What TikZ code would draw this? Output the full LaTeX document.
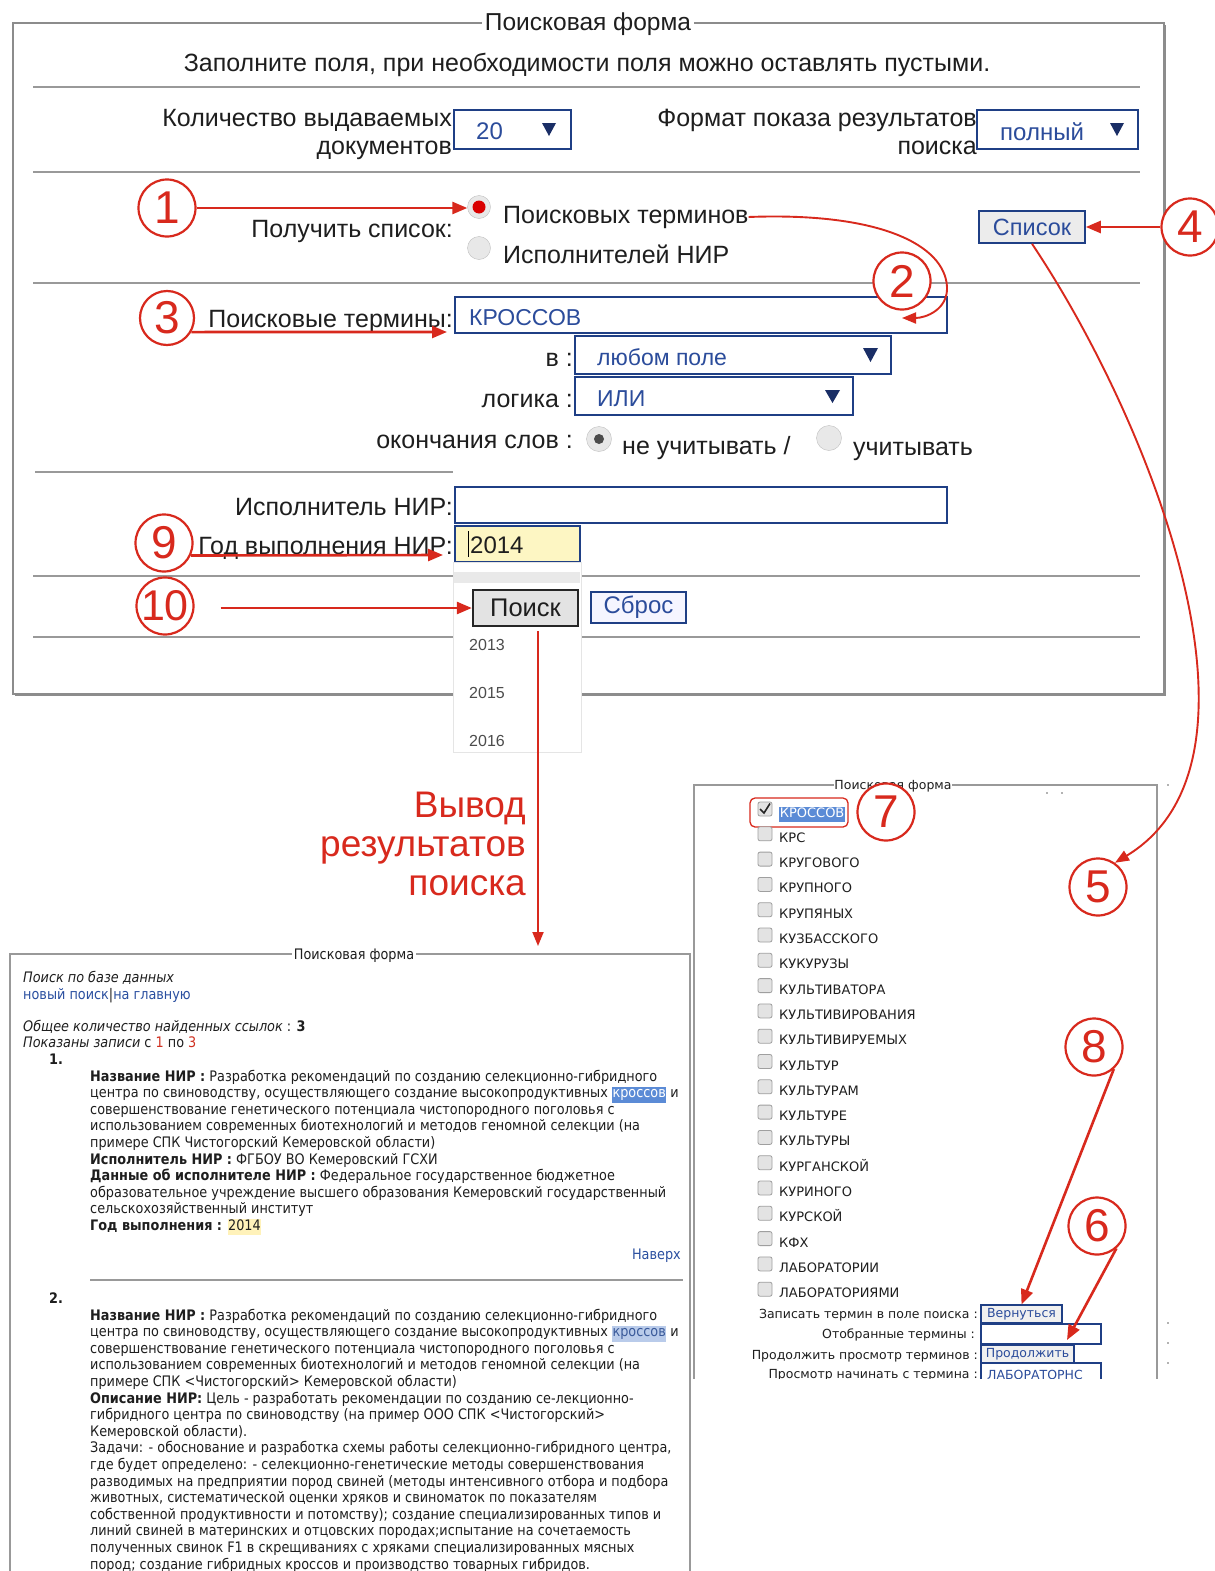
\documentclass[tikz,border=0pt]{standalone}
\usepackage{fontspec}
\setmainfont{Liberation Sans}
\newfontfamily\vfont{DejaVu Sans}
\newfontfamily\rfont[FakeStretch=0.885]{DejaVu Sans}
\usetikzlibrary{arrows.meta}
\definecolor{annred}{HTML}{D8291D}
\definecolor{frgray}{HTML}{8C8C8C}
\definecolor{sepgray}{HTML}{999999}
\definecolor{boxblue}{HTML}{1F3F85}
\definecolor{intext}{HTML}{2B4C9B}
\definecolor{navy}{HTML}{1A2E66}
\definecolor{hlblue}{HTML}{5B8BD6}
\definecolor{hllight}{HTML}{B9CBEA}
\definecolor{hltext}{HTML}{3A5A9A}
\definecolor{linkblue}{HTML}{2A4FA0}
\definecolor{txt}{HTML}{1E1E1E}
\definecolor{yel}{HTML}{FDF6C3}
\definecolor{yel2}{HTML}{FFF2BA}
\definecolor{numred}{HTML}{D03020}
\newcommand\myfs[1]{\fontsize{#1}{#1}\selectfont}
\newcommand\myhl[3]{{\setlength{\fboxsep}{0.6pt}\colorbox{#1}{\strut\textcolor{#2}{#3}}}}
\begin{document}
\begin{tikzpicture}[x=1pt,y=-1pt,
  ltxt/.style={inner sep=0pt, font=\myfs{25}, text=txt},
  itext/.style={inner sep=0pt, font=\myfs{23}, text=intext, anchor=base west},
  numc/.style={circle, draw=annred, line width=2.2pt, fill=white, minimum size=57pt, inner sep=0pt, text=annred, font=\myfs{46}},
  arr/.style={draw=annred, line width=2.6pt, -{Triangle[length=15pt,width=12pt]}},
  arrthin/.style={draw=annred, line width=1.9pt, -{Triangle[length=14pt,width=11pt]}},
  sep/.style={draw=sepgray, line width=2pt},
  fieldbox/.style={draw=boxblue, line width=1.8pt, fill=white, inner sep=0pt},
  radio/.style={circle, draw=gray!50, fill=gray!18, minimum size=23pt, inner sep=0pt},
  rl/.style={inner sep=0pt, anchor=base west, font=\rfont\myfs{14.5}, text=txt},
  vl/.style={inner sep=0pt, font=\vfont\myfs{12.5}, text=txt},
  cbox/.style={draw=gray!75, line width=0.8pt, fill=gray!22, rounded corners=2pt, minimum size=14pt, inner sep=0pt},
  smallbtn/.style={draw=boxblue, line width=1.1pt, fill=gray!12, inner sep=0pt, font=\vfont\myfs{12.5}, text=intext}
]
\useasboundingbox (0,0) rectangle (1215,1571);
\clip (0,0) rectangle (1215,1571);
\fill[white] (0,0) rectangle (1215,1571);

% ================= TOP FORM =================
\fill[black!45] (15,25) rectangle (1166,696);
\node[draw=frgray, line width=1.8pt, fill=white, minimum width=1151pt, minimum height=671pt, anchor=north west, inner sep=0pt] (topframe) at (12,22) {};
\node[fill=white, inner xsep=3pt, inner ysep=1pt, font=\myfs{24.5}, text=txt, anchor=base] (title) at (588,30.5) {Поисковая форма};
\node[ltxt, anchor=base] (intro) at (587,71) {Заполните поля, при необходимости поля можно оставлять пустыми.};
\draw[sep] (33,87) -- (1140,87);

\node[ltxt, anchor=base east] (kol1) at (452,126) {Количество выдаваемых};
\node[ltxt, anchor=base east] (kol2) at (452,154) {документов};
\node[fieldbox, minimum width=117pt, minimum height=39pt] (box20) at (512.5,129.5) {};
\node[itext, font=\myfs{24}] (t20) at (476,139) {20};
\fill[navy] (542,123) -- (556,123) -- (549,136) -- cycle;
\node[ltxt, anchor=base east] (fmt1) at (977,126) {Формат показа результатов};
\node[ltxt, anchor=base east] (fmt2) at (977,154) {поиска};
\node[fieldbox, minimum width=161pt, minimum height=39pt] (boxfmt) at (1057.5,129.5) {};
\node[itext, font=\myfs{24}] (tfmt) at (1000,140) {полный};
\fill[navy] (1110,123) -- (1124,123) -- (1117,136) -- cycle;
\draw[sep] (33,172) -- (1140,172);

\node[ltxt, anchor=base east] (getlist) at (453,237) {Получить список:};
\node[radio] (rad1) at (479,207) {};
\fill[red!85!black] (rad1.center) circle[radius=6.5pt];
\node[ltxt, anchor=base west] (terms) at (503,223) {Поисковых терминов};
\node[radio] (rad2) at (479,248) {};
\node[ltxt, anchor=base west] (execs) at (503,263) {Исполнителей НИР};
\node[draw=boxblue, line width=1.6pt, fill=gray!15, minimum width=106pt, minimum height=32pt, inner sep=0pt, font=\myfs{23.5}, text=intext] (spisok) at (1032,227) {Список};
\draw[sep] (33,283) -- (1140,283);

\node[ltxt, anchor=base east] (pterm) at (453,327) {Поисковые термины:};
\node[fieldbox, minimum width=492pt, minimum height=36pt] (kross) at (701,315) {};
\node[itext] (tkross) at (469,325) {КРОССОВ};
\node[ltxt, anchor=base east] (vlab) at (573,366) {в :};
\node[fieldbox, minimum width=316pt, minimum height=38pt] (anyf) at (733,355) {};
\node[itext] (tanyf) at (597,365) {любом поле};
\fill[navy] (863,348) -- (878,348) -- (870.5,362) -- cycle;
\node[ltxt, anchor=base east] (loglab) at (573,407) {логика :};
\node[fieldbox, minimum width=278pt, minimum height=38pt] (ili) at (714,396) {};
\node[itext] (tili) at (597,406) {ИЛИ};
\fill[navy] (825,390) -- (840,390) -- (832.5,403) -- cycle;
\node[ltxt, anchor=base east] (endlab) at (573,448) {окончания слов :};
\node[radio, minimum size=25pt] (rad3) at (599,439) {};
\fill[black!70] (rad3.center) circle[radius=5pt];
\node[ltxt, anchor=base west] (nouch) at (622,454) {не учитывать /};
\node[radio, minimum size=25pt] (rad4) at (829,438) {};
\node[ltxt, anchor=base west] (uch) at (853,455) {учитывать};
\draw[sep] (35,472) -- (453,472);

\node[ltxt, anchor=base east] (isplab) at (453,515) {Исполнитель НИР:};
\node[fieldbox, minimum width=492pt, minimum height=36pt] (ispin) at (701,505) {};
\node[ltxt, anchor=base east] (yearlab) at (453,554) {Год выполнения НИР:};
\node[fieldbox, fill=yel, minimum width=125pt, minimum height=36pt] (yearin) at (517.5,544) {};
\node[ltxt, anchor=base west, font=\myfs{24}] (tyear) at (470,553) {2014};
\draw[black, line width=0.8pt] (468,531) -- (468,557);
\draw[sep] (33,576) -- (1140,576);
\draw[sep] (33,637) -- (1140,637);

% year dropdown panel
\node[fill=white, draw=gray!20, line width=1pt, minimum width=128pt, minimum height=190pt, anchor=north west, inner sep=0pt] (ypanel) at (453,562) {};
\fill[gray!17] (454,572) rectangle (580,583);
\node[inner sep=0pt, font=\myfs{16}, text=black!70] (y13) at (487,645) {2013};
\node[inner sep=0pt, font=\myfs{16}, text=black!70] (y15) at (487,693) {2015};
\node[inner sep=0pt, font=\myfs{16}, text=black!70] (y16) at (487,741) {2016};

\node[draw=black!85, line width=2.4pt, fill=gray!22, minimum width=105pt, minimum height=36pt, inner sep=0pt, font=\myfs{25.5}, text=txt] (poisk) at (525.5,608) {Поиск};
\node[draw=boxblue, line width=1.6pt, fill=blue!4, minimum width=95pt, minimum height=31pt, inner sep=0pt, font=\myfs{24}, text=intext] (sbros) at (638.5,607.5) {Сброс};

% ================= OUTPUT LABEL =================
\node[inner sep=0pt, anchor=base east, font=\myfs{37}, text=annred] (out1) at (526,817) {Вывод};
\node[inner sep=0pt, anchor=base east, font=\myfs{37}, text=annred] (out2) at (526,856) {результатов};
\node[inner sep=0pt, anchor=base east, font=\myfs{37}, text=annred] (out3) at (526,895) {поиска};

% ================= RESULTS BOX =================
\draw[draw=sepgray, line width=1.3pt] (10,1580) -- (10,954) -- (690,954) -- (690,1580);
\node[fill=white, inner xsep=2pt, inner ysep=1pt, font=\rfont\myfs{14.5}, text=txt, anchor=base] (restitle) at (354,959) {Поисковая форма};
\coordinate (rtop) at (538,946);

\node[rl] (r1) at (23,982) {\itshape Поиск по базе данных};
\node[rl] (r2) at (23,999) {\textcolor{linkblue}{новый поиск}|\textcolor{linkblue}{на главную}};
\node[rl] (r3) at (23,1031) {\textit{Общее количество найденных ссылок} : \textbf{3}};
\node[rl] (r4) at (23,1047) {\textit{Показаны записи} с \textcolor{numred}{1} по \textcolor{numred}{3}};
\node[rl] (n1) at (49,1064) {\bfseries 1.};
\node[rl] (a0) at (90,1081) {\textbf{Название НИР :} Разработка рекомендаций по созданию селекционно-гибридного};
\node[rl] (a1) at (90,1097.6) {центра по свиноводству, осуществляющего создание высокопродуктивных \myhl{hlblue}{white}{кроссов} и};
\node[rl] (a2) at (90,1114.2) {совершенствование генетического потенциала чистопородного поголовья с};
\node[rl] (a3) at (90,1130.8) {использованием современных биотехнологий и методов геномной селекции (на};
\node[rl] (a4) at (90,1147.4) {примере СПК Чистогорский Кемеровской области)};
\node[rl] (a5) at (90,1164) {\textbf{Исполнитель НИР :} ФГБОУ ВО Кемеровский ГСХИ};
\node[rl] (a6) at (90,1180.6) {\textbf{Данные об исполнителе НИР :} Федеральное государственное бюджетное};
\node[rl] (a7) at (90,1197.2) {образовательное учреждение высшего образования Кемеровский государственный};
\node[rl] (a8) at (90,1213.8) {сельскохозяйственный институт};
\node[rl] (a9) at (90,1230.4) {\textbf{Год выполнения :} \myhl{yel2}{txt}{2014}};
\node[rl, anchor=base east, text=linkblue] (top1) at (681,1259) {Наверх};
\draw[draw=sepgray, line width=1.5pt] (90,1280) -- (683,1280);
\node[rl] (n2) at (49,1303) {\bfseries 2.};
\node[rl] (b0) at (90,1320) {\textbf{Название НИР :} Разработка рекомендаций по созданию селекционно-гибридного};
\node[rl] (b1) at (90,1336.6) {центра по свиноводству, осуществляющего создание высокопродуктивных \myhl{hllight}{hltext}{кроссов} и};
\node[rl] (b2) at (90,1353.2) {совершенствование генетического потенциала чистопородного поголовья с};
\node[rl] (b3) at (90,1369.8) {использованием современных биотехнологий и методов геномной селекции (на};
\node[rl] (b4) at (90,1386.4) {примере СПК <Чистогорский> Кемеровской области)};
\node[rl] (b5) at (90,1403) {\textbf{Описание НИР:} Цель - разработать рекомендации по созданию се-лекционно-};
\node[rl] (b6) at (90,1419.6) {гибридного центра по свиноводству (на пример ООО СПК <Чистогорский>};
\node[rl] (b7) at (90,1436.2) {Кемеровской области).};
\node[rl] (b8) at (90,1452.8) {Задачи: - обоснование и разработка схемы работы селекционно-гибридного центра,};
\node[rl] (b9) at (90,1469.4) {где будет определено: - селекционно-генетические методы совершенствования};
\node[rl] (b10) at (90,1486) {разводимых на предприятии пород свиней (методы интенсивного отбора и подбора};
\node[rl] (b11) at (90,1502.6) {животных, систематической оценки хряков и свиноматок по показателям};
\node[rl] (b12) at (90,1519.2) {собственной продуктивности и потомству); создание специализированных типов и};
\node[rl] (b13) at (90,1535.8) {линий свиней в материнских и отцовских породах;испытание на сочетаемость};
\node[rl] (b14) at (90,1552.4) {полученных свинок F1 в скрещиваниях с хряками специализированных мясных};
\node[rl] (b15) at (90,1569) {пород; создание гибридных кроссов и производство товарных гибридов.};

% ================= LIST BOX =================
\begin{scope}
\clip (691,770) rectangle (1215,1378);
\draw[draw=sepgray, line width=1.3pt] (694,1390) -- (694,785) -- (1157,785) -- (1157,1390);
\node[fill=white, inner xsep=2pt, inner ysep=1pt, vl, anchor=base] (lsttitle) at (893,789.5) {Поисковая форма};
\node[cbox] (cb0) at (765,809) {};
\draw[black!85, line width=1.6pt] (760,809) -- (764,813) -- (770,803.5);
\node[inner sep=0pt, anchor=base west, font=\vfont\myfs{13}] (w0) at (779,817) {\myhl{hlblue}{white}{КРОССОВ}};
\node[draw=annred, line width=1.3pt, rounded corners=5pt, minimum width=98pt, minimum height=29pt, inner sep=0pt] (selbox) at (799,812.5) {};
\foreach \w [count=\i] in {КРС,КРУГОВОГО,КРУПНОГО,КРУПЯНЫХ,КУЗБАССКОГО,КУКУРУЗЫ,КУЛЬТИВАТОРА,КУЛЬТИВИРОВАНИЯ,КУЛЬТИВИРУЕМЫХ,КУЛЬТУР,КУЛЬТУРАМ,КУЛЬТУРЕ,КУЛЬТУРЫ,КУРГАНСКОЙ,КУРИНОГО,КУРСКОЙ,КФХ,ЛАБОРАТОРИИ,ЛАБОРАТОРИЯМИ}{
  \node[cbox] (cb\i) at (765,{812+25.3*\i-3.5}) {};
  \node[vl, anchor=base west, font=\vfont\myfs{13}] (w\i) at (779,{812+25.3*\i+5}) {\w};
}
\node[vl, anchor=base east] (l1) at (978,1318.5) {Записать термин в поле поиска :};
\node[vl, anchor=base east] (l2) at (975,1338.5) {Отобранные термины :};
\node[vl, anchor=base east] (l3) at (978,1359.5) {Продолжить просмотр терминов :};
\node[vl, anchor=base east] (l4) at (978,1378.5) {Просмотр начинать с термина :};
\node[smallbtn, minimum width=81pt, minimum height=18pt] (vern) at (1021.5,1314) {Вернуться};
\node[draw=boxblue, line width=1.1pt, fill=white, minimum width=120pt, minimum height=20pt, inner sep=0pt] (otob) at (1041,1334) {};
\node[smallbtn, minimum width=93pt, minimum height=18pt] (prod) at (1027.5,1354) {Продолжить};
\node[draw=boxblue, line width=1.1pt, fill=white, minimum width=120pt, minimum height=22pt, inner sep=0pt] (nach) at (1041,1374) {};
\node[vl, anchor=base west, text=intext] (tnach) at (987,1379) {ЛАБОРАТОРНС};
\end{scope}
\foreach \p [count=\j] in {(1168,785),(1047,793),(1062,793),(1168,1323),(1168,1343),(1168,1363)}{
  \fill[black!60] \p circle[radius=0.9pt];
}

% ================= ANNOTATION CIRCLES =================
\node[numc] (c1) at (167,208) {1};
\node[numc] (c2) at (902,281) {2};
\node[numc, minimum size=54pt] (c3) at (167,318) {3};
\node[numc] (c4) at (1190,227) {4};
\node[numc] (c5) at (1098,887) {5};
\node[numc] (c6) at (1097,1226) {6};
\node[numc] (c7) at (886,812) {7};
\node[numc] (c8) at (1094,1047) {8};
\node[numc] (c9) at (164,543) {9};
\node[numc, font=\myfs{43}] (c10) at (165,606) {10};

% ================= ARROWS =================
\coordinate (t2) at (902,318);
\coordinate (t3) at (447,332);
\coordinate (t9) at (443,555);
\coordinate (t6) at (1067,1340);
\draw[arr] (c1.east) -- (c1.east -| rad1.west);
\draw[arrthin] (terms.east) .. controls (880,212) and (945,245) .. (947,287) .. controls (948,310) and (925,318) .. (t2);
\draw[arr] (c3.-30) -- (t3);
\draw[arr] (c4.west) -- (c4.west -| spisok.east);
\draw[arrthin] (spisok.south) .. controls (1150,420) and (1285,760) .. (c5.55);
\draw[arr] (c9.-25) -- (t9);
\draw[arr] ([xshift=26pt]c10.east |- poisk.west) -- (poisk.west);
\draw[arrthin, shorten <=4pt] (poisk.south -| rtop) -- (rtop);
\draw[arr] (c8.-48) -- (vern.north);
\draw[arr] (c6.-49) -- (t6);
\end{tikzpicture}
\end{document}
